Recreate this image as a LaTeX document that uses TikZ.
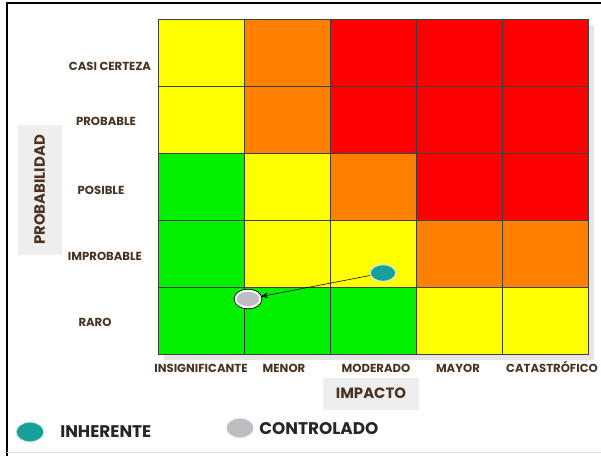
\documentclass[tikz,border=0pt]{standalone}
\usepackage{fontspec}
\setmainfont{Poppins}
\usetikzlibrary{shapes.geometric,shadows,arrows.meta}

\definecolor{riskgreen}{HTML}{00F000}
\definecolor{riskyellow}{HTML}{FFFF00}
\definecolor{riskorange}{HTML}{FF8000}
\definecolor{riskred}{HTML}{FF0000}
\definecolor{labbrown}{HTML}{4A3320}
\definecolor{tealdot}{HTML}{1A9E9A}
\definecolor{greydot}{HTML}{BEBEC2}
\definecolor{boxgrey}{HTML}{EEEEEE}

\tikzset{
	cell/.style={draw=black!75, line width=0.4pt, minimum width=2.15cm, minimum height=1.675cm, inner sep=0pt},
	rowlab/.style={font=\fontsize{8.3}{9}\selectfont\bfseries, text=labbrown, inner sep=0pt, text height=0.7em, text depth=0pt},
	axisbox/.style={fill=boxgrey, text=labbrown, font=\fontsize{10.6}{12}\selectfont\bfseries, inner sep=0pt, text height=0.7em, text depth=0pt},
	inhdot/.style={ellipse, fill=tealdot, draw=white!80!tealdot, line width=0.8pt, minimum width=0.64cm, minimum height=0.42cm, inner sep=0pt},
	ctrldot/.style={ellipse, fill=greydot, draw=white, line width=1.4pt, preaction={draw=black, line width=2.6pt}, minimum width=0.62cm, minimum height=0.42cm, inner sep=0pt},
	legdot/.style={ellipse, fill=#1, draw=white!85!#1, line width=0.8pt, minimum width=0.7cm, minimum height=0.5cm, inner sep=0pt},
	legtext/.style={font=\fontsize{12}{14}\selectfont\bfseries, text=black!85, inner sep=0pt, anchor=west, text height=0.7em, text depth=0pt}
}

\begin{document}
\begin{tikzpicture}[x=0.025cm, y=-0.025cm]
	\useasboundingbox (0,0) rectangle (601,456);
	\fill[white] (0,0) rectangle (601,456);
	\draw[line width=1.6pt] (7,456) -- (7,3) -- (601,3);
	\draw[black!12] (7,452) -- (601,452);

	% shadow behind the matrix
	\path[fill=white, drop shadow={shadow xshift=4pt, shadow yshift=-4pt, opacity=0.2}] (158,19) rectangle (588,354);

	% risk matrix
	\foreach \row/\colors in {0/{riskyellow,riskorange,riskred,riskred,riskred},
			1/{riskyellow,riskorange,riskred,riskred,riskred},
			2/{riskgreen,riskyellow,riskorange,riskred,riskred},
			3/{riskgreen,riskyellow,riskyellow,riskorange,riskorange},
			4/{riskgreen,riskgreen,riskgreen,riskyellow,riskyellow}}
		\foreach \c [count=\i from 0] in \colors
			\draw (201+86*\i, 52.5+67*\row) node [cell, fill=\c] (cell-\row-\i) {};

	% probability levels
	\draw (110, 66) node [rowlab] (casi) {CASI CERTEZA};
	\draw (106, 121) node [rowlab] (probable) {PROBABLE};
	\draw (101, 190) node [rowlab] (posible) {POSIBLE};
	\draw (105, 256) node [rowlab] (improbable) {IMPROBABLE};
	\draw (95, 322) node [rowlab] (raro) {RARO};

	% impact levels
	\draw (201, 368) node [rowlab] (insig) {INSIGNIFICANTE};
	\draw (284, 368) node [rowlab] (menor) {MENOR};
	\draw (376, 368) node [rowlab] (moderado) {MODERADO};
	\draw (458, 368) node [rowlab] (mayor) {MAYOR};
	\draw (552, 368) node [rowlab] (catas) {CATASTRÓFICO};

	% axis titles
	\draw (40, 190) node [axisbox, rotate=90, minimum width=3.225cm, minimum height=1.1cm] (probab) {PROBABILIDAD};
	\draw (371, 394) node [axisbox, minimum width=2.375cm, minimum height=0.8cm] (impacto) {IMPACTO};

	% inherent and controlled risk
	\draw (383, 273) node [inhdot] (inh) {};
	\draw (248, 299) node [ctrldot] (ctrl) {};
	\path[-{Stealth[length=5pt,width=4pt]}, line width=0.4pt] (inh) edge (ctrl);

	% legend
	\draw (30, 432) node [legdot=tealdot] (leginh) {};
	\draw (60, 433) node [legtext] (leginhtxt) {INHERENTE};
	\draw (240, 428) node [legdot=greydot] (legctrl) {};
	\draw (259, 430) node [legtext] (legctrltxt) {CONTROLADO};
\end{tikzpicture}
\end{document}
